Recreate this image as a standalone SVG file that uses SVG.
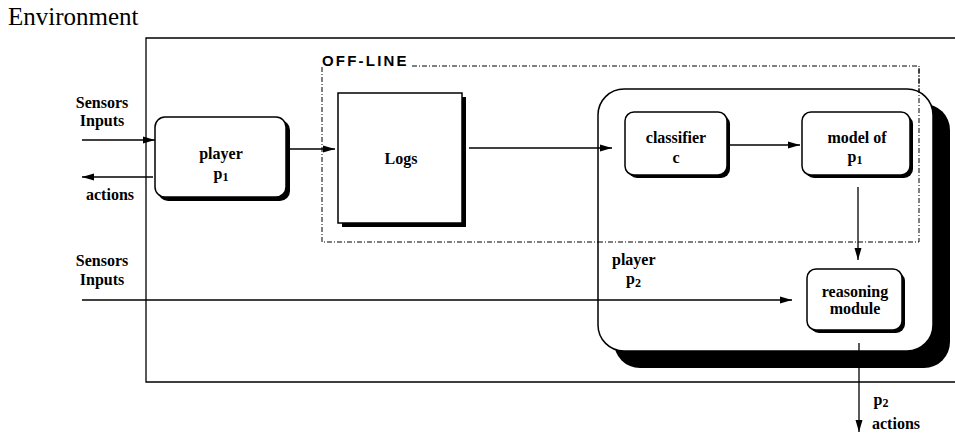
<svg xmlns="http://www.w3.org/2000/svg" width="955" height="434" viewBox="0 0 955 434">
<defs>
<marker id="ah" markerWidth="12" markerHeight="8" refX="12" refY="4" orient="auto" markerUnits="userSpaceOnUse">
<path d="M0,0.5 L12,4 L0,7.5 Z" fill="#000"/>
</marker>
<style>
.t{font-family:"Liberation Serif","Times New Roman",serif;font-size:16px;font-weight:bold;fill:#000;text-anchor:middle}
.st{text-anchor:start}
.sub{font-size:12px}
.env{font-family:"Liberation Serif","Times New Roman",serif;font-size:25px;fill:#000}
.box{fill:#fff;stroke:#000;stroke-width:1.5}
.sh{fill:#000}
.ln{fill:none;stroke:#000;stroke-width:1.3}
.dash{fill:none;stroke:#000;stroke-width:1;stroke-dasharray:5,2,1,2}
</style>
</defs>
<rect width="955" height="434" fill="#fff"/>
<g id="environment">
<text class="env" x="8" y="25">Environment</text>
<path class="ln" d="M960,38 L146,38 L146,382 L960,382" stroke-width="1.6"/>
</g>
<g id="offline">
<text x="322" y="66" font-family="Liberation Sans,Arial,sans-serif" font-size="15" font-weight="bold" letter-spacing="2.2">OFF-LINE</text>
<path class="dash" d="M412,66 L919,66 L919,242 L322,242 L322,67"/>
</g>
<g id="player-p2">
<rect class="sh" x="614" y="104" width="336" height="264" rx="26"/>
<rect class="box" x="598" y="89" width="335" height="262" rx="26"/>
<text class="t st" x="612" y="265">player</text>
<text class="t st" x="626" y="284">p<tspan class="sub" dy="3">2</tspan></text>
</g>
<g id="offline-top">
<path class="dash" d="M598,242 L919,242 L919,66"/>
</g>
<g id="player-p1">
<rect class="sh" x="158" y="120" width="132" height="81" rx="10"/>
<rect class="box" x="155" y="117" width="131" height="80" rx="10"/>
<text class="t" x="221" y="159">player</text>
<text class="t" x="221" y="179">p<tspan class="sub" dy="2">1</tspan></text>
</g>
<g id="logs">
<rect class="sh" x="342" y="97" width="124" height="130"/>
<rect class="box" x="338" y="93" width="124" height="130"/>
<text class="t" x="401" y="164">Logs</text>
</g>
<g id="classifier">
<rect class="sh" x="628" y="115" width="102" height="63" rx="9"/>
<rect class="box" x="625" y="112" width="102" height="63" rx="9"/>
<text class="t" x="676" y="143">classifier</text>
<text class="t" x="676" y="163">c</text>
</g>
<g id="model">
<rect class="sh" x="805" y="115" width="108" height="63" rx="9"/>
<rect class="box" x="802" y="112" width="108" height="63" rx="9"/>
<text class="t" x="857" y="143">model of</text>
<text class="t" x="855" y="162">p<tspan class="sub" dy="2">1</tspan></text>
</g>
<g id="reasoning">
<rect class="sh" x="810" y="272" width="95" height="61" rx="9"/>
<rect class="box" x="807" y="269" width="95" height="61" rx="9"/>
<text class="t" x="855" y="297">reasoning</text>
<text class="t" x="855" y="314">module</text>
</g>
<g id="labels">
<text class="t" x="102" y="108">Sensors</text>
<text class="t" x="102" y="126">Inputs</text>
<text class="t" x="110" y="200">actions</text>
<text class="t" x="102" y="266">Sensors</text>
<text class="t" x="102" y="285">Inputs</text>
<text class="t" x="881" y="405">p<tspan class="sub" dy="2">2</tspan></text>
<text class="t" x="896" y="429">actions</text>
</g>
<g id="connectors">
<line class="ln" x1="82" y1="140" x2="155" y2="140" marker-end="url(#ah)"/>
<line class="ln" x1="153" y1="177" x2="82" y2="177" marker-end="url(#ah)"/>
<line class="ln" x1="289" y1="149" x2="335" y2="149" marker-end="url(#ah)"/>
<line class="ln" x1="469" y1="148" x2="612" y2="148" marker-end="url(#ah)"/>
<line class="ln" x1="730" y1="145" x2="800" y2="145" marker-end="url(#ah)"/>
<line class="ln" x1="858" y1="187" x2="858" y2="260" marker-end="url(#ah)"/>
<line class="ln" x1="82" y1="300" x2="792" y2="300" marker-end="url(#ah)"/>
<line class="ln" x1="859" y1="343" x2="859" y2="432" marker-end="url(#ah)"/>
</g>
</svg>
